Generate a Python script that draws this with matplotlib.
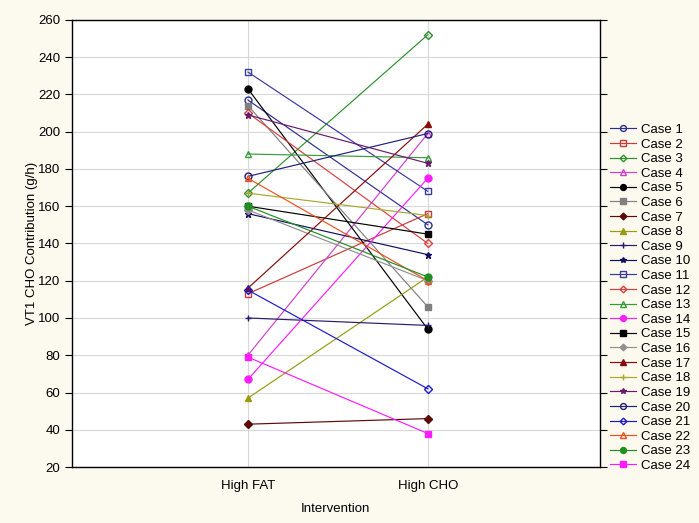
import numpy as np
import matplotlib
matplotlib.use("Agg")
import matplotlib.pyplot as plt

plt.rcParams['font.family'] = ['Liberation Sans', 'DejaVu Sans']

# values (g/h)
cases = ['Case %d' % i for i in range(1, 25)]
high_fat = [217, 113, 167, 80, 223, 214, 43, 57, 100, 156, 232, 210,
            188, 67, 160, 158, 116, 167, 209, 176, 115, 175, 160, 79]
high_cho = [150, 156, 252, 199, 94, 106, 46, 122, 96, 134, 168, 140,
            186, 175, 145, 120, 204, 155, 183, 199, 62, 120, 122, 38]
conditions = ['High FAT', 'High CHO']

colors = ['#2e2e8f', '#cc3a3a', '#2f8f2f', '#d040d0', '#000000', '#808080',
          '#5c0a0a', '#9a9a10', '#2a1a6e', '#101060', '#3a3aa0', '#d84040',
          '#3a9a3a', '#ff1cff', '#000000', '#909090', '#8a0a0a', '#a8a830',
          '#6a1a6a', '#20207a', '#1a1acc', '#ee5020', '#1f8f1f', '#ff1cff']
markers = ['o', 's', 'D', '^', 'o', 's', 'D', '^', '+', '*', 's', 'D',
           '^', 'o', 's', 'D', '^', '+', '*', 'o', 'D', '^', 'o', 's']
filled = [False, False, False, False, True, True, True, True, True, True,
          False, False, False, True, True, True, True, True, True, False,
          False, False, True, True]

fig = plt.figure(figsize=(6.99, 5.23), dpi=100)
fig.patch.set_facecolor('#fcf9ef')
ax = fig.add_axes([0.103, 0.107, 0.755, 0.855])
ax.set_facecolor('white')

x = np.arange(1, 3)
for i, c in enumerate(cases):
    fc = colors[i] if filled[i] else 'none'
    ax.plot(x, [high_fat[i], high_cho[i]], color=colors[i], lw=0.85,
            marker=markers[i], markersize=5 if markers[i] != 'D' else 4,
            markerfacecolor=fc, markeredgecolor=colors[i], markeredgewidth=1,
            label=c)

ax.set_xlim(0.022, 2.956)
ax.set_ylim(20, 260)
ax.set_yticks(np.arange(20, 261, 20))
ax.set_xticks(x)
ax.set_xticklabels(conditions)
ax.grid(True, color='#d8d8d8', lw=0.8)
ax.set_axisbelow(True)
for s in ax.spines.values():
    s.set_color('black')
    s.set_linewidth(1)
ax.tick_params(axis='y', direction='out', length=5, labelsize=9.5, right=True, left=True)
ax.tick_params(axis='x', direction='out', length=0, labelsize=9.5, pad=9.5)
ax.set_ylabel('VT1 CHO Contribution (g/h)', fontsize=9.5, labelpad=0)
ax.set_xlabel('Intervention', fontsize=9.5, labelpad=8)

leg = ax.legend(loc='upper left', bbox_to_anchor=(0.872, 0.7635),
                bbox_transform=fig.transFigure, frameon=False, fontsize=9.5,
                labelspacing=0.18, handlelength=2.0, handletextpad=0.4,
                borderaxespad=0, borderpad=0, markerscale=0.85)

fig.savefig('out.png', dpi=100, facecolor=fig.get_facecolor())
